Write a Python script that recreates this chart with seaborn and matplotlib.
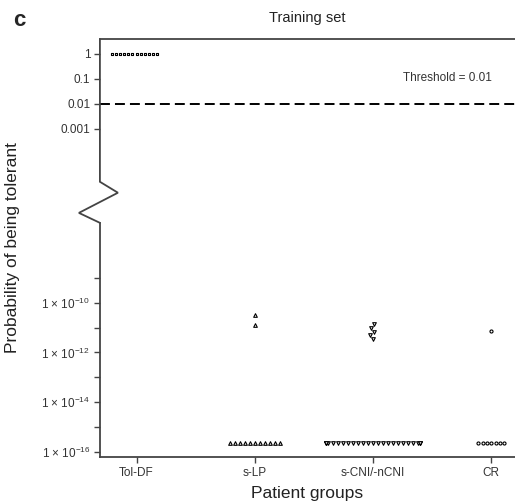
import numpy as np
import pandas as pd
import matplotlib
matplotlib.use("Agg")
import matplotlib.pyplot as plt
import matplotlib.transforms as mtransforms
import seaborn as sns

# Data (probability of being tolerant, per patient)
groups = ["Tol-DF", "s-LP", "s-CNI/-nCNI", "CR"]
markers = ["s", "^", "v", "o"]
marker_sizes = [2.0, 2.6, 2.6, 2.2]
tol_df = [1.0, 1.0, 1.0, 1.0, 1.0, 1.0, 1.0, 1.0, 1.0, 1.0, 1.0, 1.0]
s_lp = [3.3e-11, 1.3e-11,
        2.2e-16, 2.2e-16, 2.2e-16, 2.2e-16, 2.2e-16, 2.2e-16,
        2.2e-16, 2.2e-16, 2.2e-16, 2.2e-16, 2.2e-16]
s_cni = [1.45e-11, 1.0e-11, 6.9e-12, 5.0e-12, 3.5e-12,
         2.2e-16, 2.2e-16, 2.2e-16, 2.2e-16, 2.2e-16, 2.2e-16, 2.2e-16,
         2.2e-16, 2.2e-16, 2.2e-16, 2.2e-16, 2.2e-16, 2.2e-16, 2.2e-16,
         2.2e-16, 2.2e-16, 2.2e-16, 2.2e-16, 2.2e-16, 2.2e-16, 2.2e-16,
         2.2e-16, 2.2e-16, 2.2e-16, 2.2e-16, 2.2e-16]
cr = [7.5e-12, 2.2e-16, 2.2e-16, 2.2e-16, 2.2e-16, 2.2e-16, 2.2e-16, 2.2e-16]
threshold = 0.01

ytick_vals = [1, 0.1, 0.01, 0.001, 1e-9, 1e-10, 1e-11, 1e-12, 1e-13, 1e-14, 1e-15, 1e-16]
ytick_labels = ["1", "0.1", "0.01", "0.001", "",
                r"1 $\times$ 10$^{-10}$", "", r"1 $\times$ 10$^{-12}$", "",
                r"1 $\times$ 10$^{-14}$", "", r"1 $\times$ 10$^{-16}$"]

df = pd.DataFrame({
    "group": ["Tol-DF"] * len(tol_df) + ["s-LP"] * len(s_lp)
             + ["s-CNI/-nCNI"] * len(s_cni) + ["CR"] * len(cr),
    "prob": tol_df + s_lp + s_cni + cr,
})

sns.set_style("ticks")
plt.rcParams["font.family"] = ["Liberation Sans", "DejaVu Sans"]
plt.rcParams["mathtext.fontset"] = "custom"
plt.rcParams["mathtext.rm"] = "Liberation Sans"
plt.rcParams["mathtext.it"] = "Liberation Sans:italic"

spine_col = "#444444"
text_col = "#333333"

fig = plt.figure(figsize=(5.15, 5.04), dpi=100)
ax = fig.add_axes([0.194, 0.0933, 0.806, 0.8294])

for g, m, sz in zip(groups, markers, marker_sizes):
    sns.swarmplot(data=df[df["group"] == g], x="group", y="prob", order=groups,
                  marker=m, size=sz, color="white", edgecolor="black",
                  linewidth=0.8, log_scale=True, ax=ax, warn_thresh=1)

ax.set_yscale("log")
ax.set_ylim(10 ** -16.2, 10 ** 0.6)
ax.set_xlim(-0.31, 3.2)

# threshold line and note
ax.axhline(threshold, color="black", lw=1.4, ls=(0, (5.1, 2.6)), zorder=2)
ax.text(2.25, 0.11, "Threshold = 0.01", fontsize=8.5, color=text_col,
        ha="left", va="center")

# ticks
ax.set_yticks(ytick_vals, ytick_labels)
ax.yaxis.set_minor_locator(matplotlib.ticker.NullLocator())
ax.tick_params(axis="both", direction="out", length=4, width=1.0,
               color=spine_col, labelsize=8.5, labelcolor=text_col, pad=3)

# spines with a broken left axis
for s in ["top", "bottom", "left"]:
    ax.spines[s].set_color(spine_col)
    ax.spines[s].set_linewidth(1.3)
ax.spines["right"].set_visible(False)
ax.spines["left"].set_bounds(10 ** -16.2, 10 ** -6.79)
trans = mtransforms.blended_transform_factory(ax.transAxes, ax.transData)
ax.plot([0, 0, 0.0434, -0.0506, 0],
        [10 ** 0.6, 10 ** -5.14, 10 ** -5.58, 10 ** -6.39, 10 ** -6.79],
        transform=trans, color=spine_col, lw=1.3, clip_on=False,
        solid_joinstyle="miter")

# labels
ax.set_title("Training set", fontsize=10.5, color="#222222", pad=12)
ax.set_xlabel("Patient groups", fontsize=12.5, color="#222222")
ax.set_ylabel("Probability of being tolerant", fontsize=12.5, color="#222222")
ax.xaxis.set_label_coords(0.5, -0.069)
ax.yaxis.set_label_coords(-0.193, 0.5)
fig.text(19 / 515, 1 - 21 / 504, "c", fontsize=16, fontweight="bold",
         ha="center", va="center")

fig.savefig("out.png", dpi=100)
